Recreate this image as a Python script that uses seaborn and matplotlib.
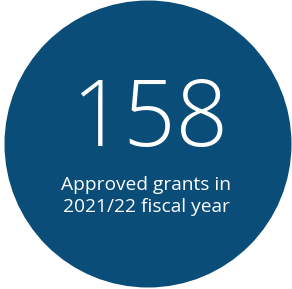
import matplotlib
matplotlib.use("Agg")
import matplotlib.pyplot as plt
from matplotlib.patches import Circle
import seaborn as sns

# data
stat_value = [158]
stat_label = ["Approved grants in\n2021/22 fiscal year"]
circle_color = "#0a4d78"

sns.set_theme(style="white")
plt.rcParams['font.family'] = ['Open Sans', 'DejaVu Sans']

fig = plt.figure(figsize=(2.92, 2.89), dpi=100)
ax = fig.add_axes([0, 0, 1, 1])
ax.set_xlim(0, 292)
ax.set_ylim(289, 0)
ax.set_aspect('equal')
ax.axis('off')

# circle badge
ax.add_patch(Circle((148, 144), 143.5, color=circle_color, lw=0))

# big number
ax.text(150, 122, str(stat_value[0]), color='white', fontsize=66,
        fontweight='light', ha='center', va='center')

# label
ax.text(146, 196, stat_label[0], color='white', fontsize=13.8,
        ha='center', va='center', linespacing=1.3)

fig.savefig("out.png", dpi=100)
